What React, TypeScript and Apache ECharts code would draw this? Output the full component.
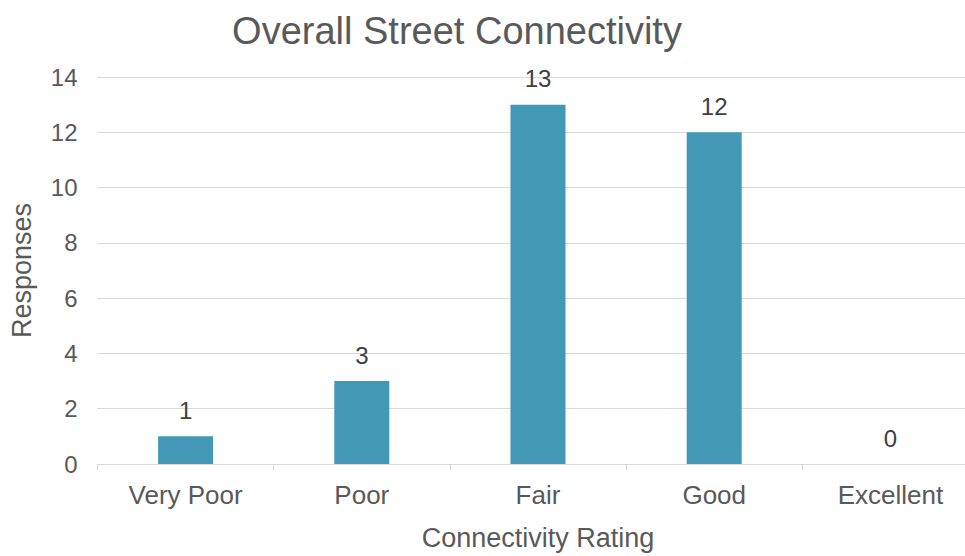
import React, { useEffect, useRef } from "react";
import * as echarts from "echarts";

const categories = ["Very Poor", "Poor", "Fair", "Good", "Excellent"];
const responses = [1, 3, 13, 12, 0];
const yTicks = { min: 0, max: 14, interval: 2 };
const titleText = "Overall Street Connectivity";
const xAxisTitle = "Connectivity Rating";
const yAxisTitle = "Responses";

const FONT = "'Liberation Sans', Arial, sans-serif";
const TEXT = "#595959";

export default function App() {
  const ref = useRef<HTMLDivElement>(null);
  useEffect(() => {
    document.body.style.margin = "0";
    const chart = echarts.init(ref.current!, null, { renderer: "svg" });
    chart.setOption({
      animation: false,
      backgroundColor: "#ffffff",
      title: {
        text: titleText,
        left: 452,
        textAlign: "center",
        top: 7,
        textStyle: { fontFamily: FONT, fontSize: 38, fontWeight: "normal", color: TEXT },
      },
      grid: { left: 97.5, top: 77, width: 881, height: 390, containLabel: false },
      xAxis: {
        type: "category",
        data: categories,
        name: xAxisTitle,
        nameLocation: "middle",
        nameGap: 60,
        nameTextStyle: { fontFamily: FONT, fontSize: 27, color: TEXT },
        axisLine: { show: true, lineStyle: { color: "#d9d9d9", width: 1 } },
        axisTick: { show: true, length: 6, alignWithLabel: false, lineStyle: { color: "#d9d9d9" } },
        axisLabel: { fontFamily: FONT, fontSize: 26, color: TEXT, margin: 18 },
      },
      yAxis: {
        type: "value",
        min: yTicks.min,
        max: yTicks.max,
        interval: yTicks.interval,
        name: yAxisTitle,
        nameLocation: "middle",
        nameGap: 62,
        nameRotate: 90,
        nameTextStyle: { fontFamily: FONT, fontSize: 27, color: TEXT },
        axisLine: { show: false },
        axisTick: { show: false },
        axisLabel: { fontFamily: FONT, fontSize: 24, color: TEXT, margin: 20 },
        splitLine: { lineStyle: { color: "#d9d9d9", width: 1 } },
      },
      series: [
        {
          type: "bar",
          data: responses,
          barWidth: 55,
          itemStyle: { color: "#4298B5" },
          label: {
            show: true,
            position: "top",
            distance: 14,
            fontFamily: FONT,
            fontSize: 24,
            color: "#404040",
          },
        },
      ],
    });
    return () => chart.dispose();
  }, []);
  return (
    <div style={{ position: "fixed", left: 0, top: 0, width: 965, height: 556, overflow: "hidden" }}>
      <div ref={ref} style={{ width: 1000, height: 556 }} />
    </div>
  );
}
